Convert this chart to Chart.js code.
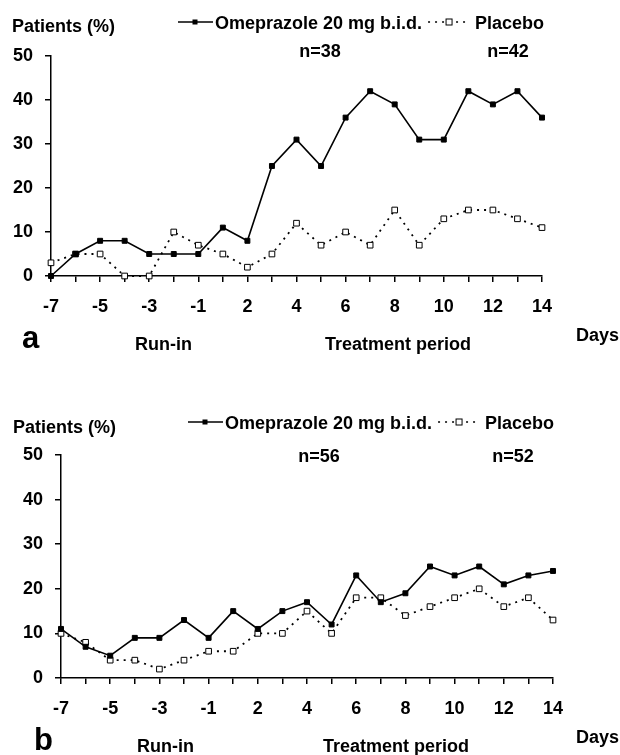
<!doctype html>
<html>
<head>
  <meta charset="utf-8">
  <title>Omeprazole vs placebo</title>
  <style>
    body { margin: 0; background: #fff; }
    #wrap { position: relative; width: 620px; height: 755px; overflow: hidden; }
    canvas { position: absolute; left: 0; }
  </style>
</head>
<body>
<div id="wrap">
  <canvas id="chartA" width="620" height="370" style="top:0"></canvas>
  <canvas id="chartB" width="620" height="385" style="top:370px"></canvas>
</div>

<script src="https://cdn.jsdelivr.net/npm/chart.js"></script>

<script>

	// days: 7 run-in days then 14 treatment days (no day 0)
	const days = ['-7','-6','-5','-4','-3','-2','-1','1','2','3','4','5','6','7','8','9','10','11','12','13','14']
	const yTicks = [0, 10, 20, 30, 40, 50]

	// panel a
	const omeprazoleA = [0, 5, 8, 8, 5, 5, 5, 11, 8, 25, 31, 25, 36, 42, 39, 31, 31, 42, 39, 42, 36]
	const placeboA    = [3, 5, 5, 0, 0, 10, 7, 5, 2, 5, 12, 7, 10, 7, 15, 7, 13, 15, 15, 13, 11]
	const nLabelsA    = ['n=38', 'n=42']

	// panel b
	const omeprazoleB = [11, 7, 5, 9, 9, 13, 9, 15, 11, 15, 17, 12, 23, 17, 19, 25, 23, 25, 21, 23, 24]
	const placeboB    = [10, 8, 4, 4, 2, 4, 6, 6, 10, 10, 15, 10, 18, 18, 14, 16, 18, 20, 16, 18, 13]
	const nLabelsB    = ['n=56', 'n=52']

	const seriesNames = ['Omeprazole 20 mg b.i.d.', 'Placebo']

	const FONT = '"Liberation Sans", Arial, sans-serif'

	// draws the free text of a panel: y title, legend, n= labels, panel letter, period labels
	const panelText = {
		id: 'panelText',
		afterDraw(chart, args, o) {
			const ctx = chart.ctx
			ctx.save()
			ctx.fillStyle = '#000'
			ctx.strokeStyle = '#000'
			ctx.textBaseline = 'alphabetic'
			ctx.textAlign = 'left'
			ctx.font = 'bold 18px ' + FONT

			ctx.fillText('Patients (%)', o.titleX, o.titleY)

			// legend
			let x = o.legX
			const ly = o.legY
			ctx.lineWidth = 1.5
			ctx.setLineDash([])
			ctx.beginPath(); ctx.moveTo(x, ly); ctx.lineTo(x + 35, ly); ctx.stroke()
			ctx.fillRect(x + 17 - 2.5, ly - 2.5, 5, 5)
			x += 37
			ctx.fillText(seriesNames[0], x, o.legY + 7)
			x += ctx.measureText(seriesNames[0]).width + 6
			ctx.setLineDash([2, 5])
			ctx.beginPath(); ctx.moveTo(x, ly); ctx.lineTo(x + 42, ly); ctx.stroke()
			ctx.setLineDash([])
			ctx.fillStyle = '#fff'
			ctx.fillRect(x + 21 - 3, ly - 3, 6, 6)
			ctx.lineWidth = 1
			ctx.strokeRect(x + 21 - 3, ly - 3, 6, 6)
			ctx.fillStyle = '#000'
			x += 47
			ctx.fillText(seriesNames[1], x, o.legY + 7)

			// n= labels
			ctx.textAlign = 'center'
			o.nLabels.forEach((t, i) => ctx.fillText(t, o.nX[i], o.nY))

			// bottom labels
			ctx.textAlign = 'left'
			ctx.fillText('Run-in', o.runX, o.lowY + 2)
			ctx.fillText('Treatment period', o.treatX, o.lowY + 2)
			ctx.fillText('Days', 576, o.lowY - 7)
			ctx.font = 'bold 31px ' + FONT
			ctx.fillText(o.letter, o.letterX, o.lowY)
			ctx.restore()
		}
	}

	function makePanel(id, omeprazole, placebo, box, text) {
		const canvas = document.getElementById(id)
		const tickFont = { family: FONT, size: 18, weight: 'bold' }
		const axisGrid = {
			drawOnChartArea: false,
			drawTicks: true,
			tickLength: 6,
			color: '#000',
			lineWidth: 1.5
		}
		return new Chart(canvas.getContext('2d'), {
			type: 'line',
			data: {
				labels: days,
				datasets: [
					{
						label: seriesNames[0],
						data: omeprazole,
						borderColor: '#000',
						borderWidth: 1.6,
						backgroundColor: '#000',
						pointStyle: 'rect',
						pointRadius: 3.5,
						pointBorderWidth: 1,
						pointBorderColor: '#000',
						pointBackgroundColor: '#000',
						tension: 0,
						clip: false
					},
					{
						label: seriesNames[1],
						data: placebo,
						borderColor: '#000',
						borderWidth: 1.8,
						borderDash: [2, 5],
						pointStyle: 'rect',
						pointRadius: 4,
						pointBorderWidth: 1,
						pointBorderColor: '#000',
						pointBackgroundColor: '#fff',
						tension: 0,
						clip: false
					}
				]
			},
			options: {
				responsive: false,
				animation: false,
				events: [],
				layout: {
					autoPadding: false,
					padding: {
						left: 0,
						top: box.top,
						right: 620 - box.right,
						bottom: box.h - box.bottom - 40
					}
				},
				plugins: {
					legend: { display: false },
					tooltip: { enabled: false },
					panelText: text
				},
				scales: {
					x: {
						type: 'category',
						offset: false,
						afterFit: s => { s.height = 40 },
						border: { display: true, color: '#000', width: 1.5 },
						grid: axisGrid,
						ticks: {
							autoSkip: false,
							maxRotation: 0,
							padding: 14,
							color: '#000',
							font: tickFont,
							callback: (v, i) => i % 2 === 0 ? days[i] : ''
						}
					},
					y: {
						min: yTicks[0],
						max: yTicks[yTicks.length - 1],
						afterFit: s => { s.width = box.left },
						afterBuildTicks: s => { s.ticks = yTicks.map(v => ({ value: v })) },
						border: { display: true, color: '#000', width: 1.5 },
						grid: axisGrid,
						ticks: {
							padding: 12,
							color: '#000',
							font: tickFont
						}
					}
				}
			},
			plugins: [panelText]
		})
	}

	makePanel('chartA', omeprazoleA, placeboA,
		{ h: 370, left: 51, right: 542, top: 56, bottom: 276 },
		{
			titleX: 12, titleY: 32,
			legX: 178, legY: 22,
			nLabels: nLabelsA, nX: [320, 508], nY: 57,
			letter: 'a', letterX: 22,
			runX: 135, treatX: 325, lowY: 348
		})

	makePanel('chartB', omeprazoleB, placeboB,
		{ h: 385, left: 61, right: 553, top: 85, bottom: 308 },
		{
			titleX: 13, titleY: 63,
			legX: 188, legY: 52,
			nLabels: nLabelsB, nX: [319, 513], nY: 92,
			letter: 'b', letterX: 34,
			runX: 137, treatX: 323, lowY: 380
		})

</script>
</body>
</html>
